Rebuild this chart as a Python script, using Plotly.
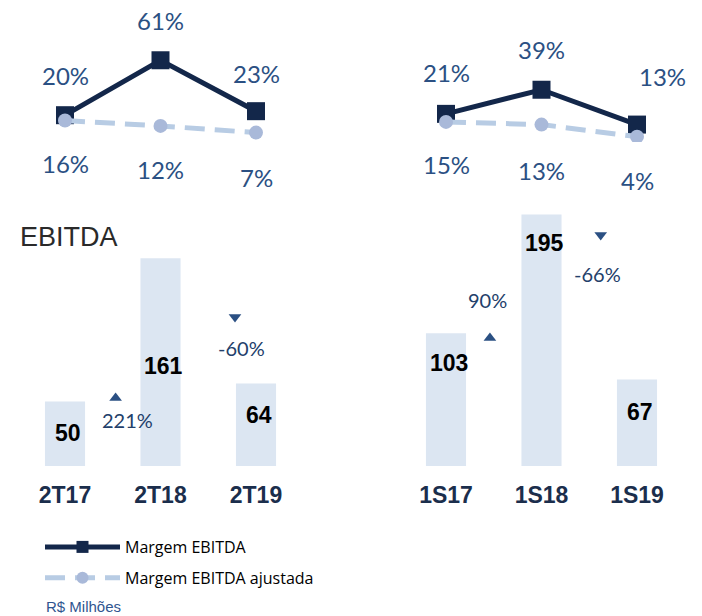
import plotly.graph_objects as go

# ---------------- data ----------------
cats_left = ["2T17", "2T18", "2T19"]
cats_right = ["1S17", "1S18", "1S19"]

margem_left = [20, 61, 23]
ajustada_left = [16, 12, 7]
margem_right = [21, 39, 13]
ajustada_right = [15, 13, 4]

ebitda_left = [50, 161, 64]
ebitda_right = [103, 195, 67]

growth_left = ["221%", "-60%"]
growth_right = ["90%", "-66%"]
growth_dir_left = ["up", "down"]
growth_dir_right = ["up", "down"]

# ---------------- layout helpers ----------------
W, H = 702, 616
def px(x):
    return x / W
def py(y):
    return 1 - y / H

UNIT = 95.5  # pixels per category step
left_x0, right_x0 = 65, 446

NAVY = "#13274A"
LIGHT_LINE = "#B8CCE4"
LIGHT_MARK = "#A9B9D9"
BAR = "#DCE6F2"
TXT_BLUE = "#2B5083"
GROW_TXT = "#23406A"
TRI = "#2B5083"
CAT_TXT = "#1B2E4C"

PCT_FONT = "Lato, Open Sans, sans-serif"
NUM_FONT = "Liberation Sans Narrow, Arial Narrow, Liberation Sans, sans-serif"

fig = go.Figure()

idx = [0, 1, 2]

# line charts (top)
for xa, ya, m, a, show in [("x", "y", margem_left, ajustada_left, True),
                           ("x2", "y2", margem_right, ajustada_right, False)]:
    fig.add_trace(go.Scatter(x=idx, y=m, mode="lines+markers", name="Margem EBITDA",
                             line=dict(color=NAVY, width=5),
                             marker=dict(symbol="square", size=18, color=NAVY),
                             xaxis=xa, yaxis=ya, showlegend=show, legendrank=1,
                             legendgroup="m"))
    fig.add_trace(go.Scatter(x=idx, y=a, mode="lines+markers", name="Margem EBITDA ajustada",
                             line=dict(color=LIGHT_LINE, width=5, dash="20px,10px"),
                             marker=dict(symbol="circle", size=14, color=LIGHT_MARK),
                             xaxis=xa, yaxis=ya, showlegend=show, legendrank=2,
                             legendgroup="a"))

# bars (bottom)
for xa, ya, v in [("x3", "y3", ebitda_left), ("x4", "y4", ebitda_right)]:
    fig.add_trace(go.Bar(x=idx, y=v, marker=dict(color=BAR, line=dict(width=0)),
                         width=0.42, xaxis=xa, yaxis=ya, showlegend=False,
                         hoverinfo="skip"))

annotations = []

# percentage labels on lines
top_shift = [[40, 40, 38], [41, 40, 48]]
top_xshift = [[0, 0, 0], [0, 0, 25]]
bot_shift = [[-43, -44, -45], [-43, -46, -44]]
for k, (xr, yr, m, a) in enumerate([("x", "y", margem_left, ajustada_left),
                                     ("x2", "y2", margem_right, ajustada_right)]):
    for i in idx:
        annotations.append(dict(x=i, y=m[i], xref=xr, yref=yr, text=f"{m[i]}%",
                                showarrow=False, yshift=top_shift[k][i], xshift=top_xshift[k][i],
                                font=dict(family=PCT_FONT, size=24, color=TXT_BLUE)))
        annotations.append(dict(x=i, y=a[i], xref=xr, yref=yr, text=f"{a[i]}%",
                                showarrow=False, yshift=bot_shift[k][i],
                                font=dict(family=PCT_FONT, size=24, color=TXT_BLUE)))

# bar value labels
label_y = [[25.6, 77.5, 39.5], [79.8, 172.9, 41.9]]
for k, (xr, yr, v) in enumerate([("x3", "y3", ebitda_left), ("x4", "y4", ebitda_right)]):
    for i in idx:
        annotations.append(dict(x=i, y=label_y[k][i], xref=xr, yref=yr, text=f"<b>{v[i]}</b>",
                                showarrow=False, xshift=3,
                                font=dict(family=NUM_FONT, size=23, color="#000000")))

# growth labels and triangles
grow_text_pos = [[(0.65, 35.7), (1.85, 91.5)], [(0.43, 128.7), (1.59, 148.8)]]
grow_tri_pos = [[(0.53, 52.7), (1.78, 115.5)], [(0.46, 99.2), (1.62, 179.0)]]
for k, (xr, yr, g, d) in enumerate([("x3", "y3", growth_left, growth_dir_left),
                                     ("x4", "y4", growth_right, growth_dir_right)]):
    for j in range(2):
        tx, ty = grow_text_pos[k][j]
        annotations.append(dict(x=tx, y=ty, xref=xr, yref=yr, text=g[j], showarrow=False,
                                font=dict(family=PCT_FONT, size=20, color=GROW_TXT)))
    fig.add_trace(go.Scatter(x=[p[0] for p in grow_tri_pos[k]], y=[p[1] for p in grow_tri_pos[k]],
                             mode="markers", xaxis=xr, yaxis=yr, showlegend=False, hoverinfo="skip",
                             marker=dict(symbol=["triangle-up" if s == "up" else "triangle-down" for s in d],
                                         size=11, color=TRI)))

# titles
annotations.append(dict(x=px(18), y=py(237), xref="paper", yref="paper", text="EBITDA",
                        showarrow=False, xanchor="left", yanchor="middle",
                        font=dict(family="Liberation Sans, Arial, sans-serif", size=27, color="#2a2a2a",
                                  weight=300)))
annotations.append(dict(x=px(44), y=py(606), xref="paper", yref="paper", text="R$ Milhões",
                        showarrow=False, xanchor="left", yanchor="middle",
                        font=dict(family="Liberation Sans, Arial, sans-serif", size=15, color="#2F5590")))

def xr_range(x0, d0, d1):
    return [(d0 - x0) / UNIT, (d1 - x0) / UNIT]

hidden = dict(showgrid=False, zeroline=False, showticklabels=False, showline=False, ticks="")

fig.update_layout(
    width=W, height=H, margin=dict(l=0, r=0, t=0, b=0),
    paper_bgcolor="white", plot_bgcolor="rgba(0,0,0,0)",
    xaxis=dict(domain=[0, px(350)], range=xr_range(left_x0, 0, 350), anchor="y", **hidden),
    yaxis=dict(domain=[py(142), py(8)], range=[0, 100], anchor="x", **hidden),
    xaxis2=dict(domain=[px(350), 1], range=xr_range(right_x0, 350, 702), anchor="y2", **hidden),
    yaxis2=dict(domain=[py(142), py(8)], range=[0, 100], anchor="x2", **hidden),
    xaxis3=dict(domain=[0, px(350)], range=xr_range(left_x0, 0, 350), anchor="y3",
                showgrid=False, zeroline=False, showline=False, ticks="",
                tickvals=idx, ticktext=[f"<b>{c}</b>" for c in cats_left], ticklabelstandoff=13,
                tickfont=dict(family=NUM_FONT, size=23, color=CAT_TXT)),
    yaxis3=dict(domain=[py(466), py(208)], range=[0, 200], anchor="x3", **hidden),
    xaxis4=dict(domain=[px(350), 1], range=xr_range(right_x0, 350, 702), anchor="y4",
                showgrid=False, zeroline=False, showline=False, ticks="",
                tickvals=idx, ticktext=[f"<b>{c}</b>" for c in cats_right], ticklabelstandoff=13,
                tickfont=dict(family=NUM_FONT, size=23, color=CAT_TXT)),
    yaxis4=dict(domain=[py(466), py(208)], range=[0, 200], anchor="x4", **hidden),
    annotations=annotations,
    legend=dict(x=px(40), y=py(530), xanchor="left", yanchor="top", orientation="v",
                itemwidth=75, itemsizing="constant", traceorder="grouped", tracegroupgap=7,
                font=dict(family="Open Sans, sans-serif", size=16, color="#000000"),
                bgcolor="rgba(0,0,0,0)"),
    showlegend=True,
)

fig.write_html("out.html")
